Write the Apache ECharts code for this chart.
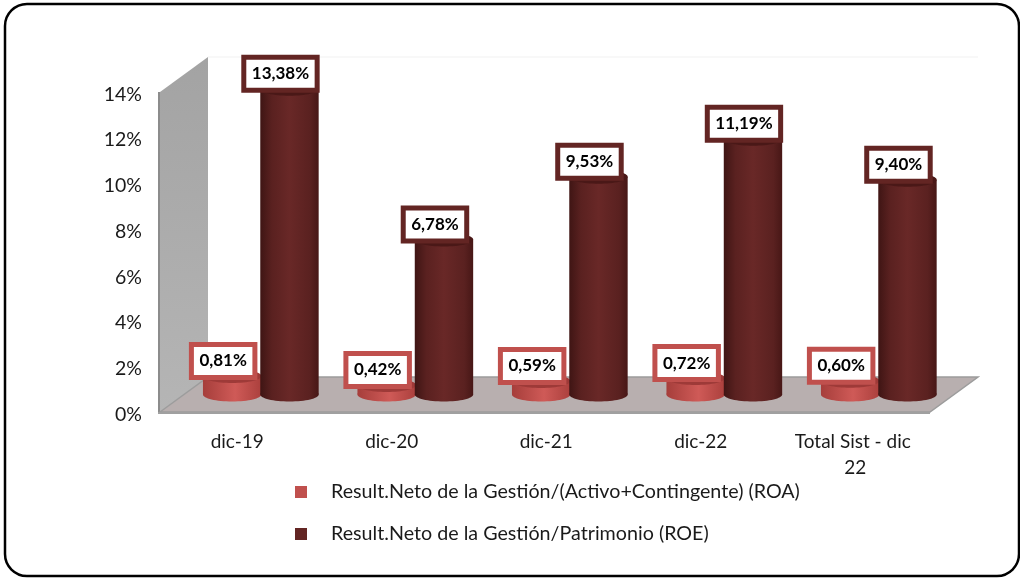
<!DOCTYPE html>
<html><head><meta charset="utf-8">
<style>html,body{margin:0;padding:0;background:#fff}#c{width:1020px;height:579px}</style>
<script src="https://cdn.jsdelivr.net/npm/echarts@6/dist/echarts.min.js"></script>
</head><body><div id="c"></div>
<script>
var categories = ['dic-19','dic-20','dic-21','dic-22','Total Sist - dic 22'];
var roa = [0.81,0.42,0.59,0.72,0.60];
var roe = [13.38,6.78,9.53,11.19,9.40];
var seriesNames = ['Result.Neto de la Gestión/(Activo+Contingente) (ROA)','Result.Neto de la Gestión/Patrimonio (ROE)'];
var yTicks = {min:0,max:14,interval:2};

var FONT = 'Lato, Carlito, "Open Sans", sans-serif';
var G = {l:160,t:92,w:770,h:320,dx:48,dy:35};

function cylinder(dxFrac, grad, topColor, borderColor){
  return function(params, api){
    var v = api.value(1), p = api.coord([api.value(0), v]), p0 = api.coord([api.value(0), 0]);
    var band = api.size([1,0])[0];
    var w = band*0.378, rx = w/2, ry = 7;
    var cx = p[0] + band*dxFrac, yTop = p[1]-17.5, yBase = p0[1]-17.5;
    var fill = {type:'linear',x:0,y:0,x2:1,y2:0,colorStops:grad};
    return {type:'group',children:[
      {type:'ellipse',shape:{cx:cx,cy:yBase,rx:rx,ry:ry},style:{fill:fill}},
      {type:'rect',shape:{x:cx-rx,y:yTop,width:w,height:yBase-yTop},style:{fill:fill}},
      {type:'ellipse',shape:{cx:cx,cy:yTop,rx:rx,ry:ry},style:{fill:topColor}},
      {type:'text',z2:100,x:cx-9,y:yTop-15,style:{
        text:v.toFixed(2).replace('.',',')+'%',font:'bold 17px '+FONT,fill:'#000',
        align:'center',verticalAlign:'middle',backgroundColor:'#fff',
        borderColor:borderColor,borderWidth:5,borderRadius:0,padding:[6,5.5,5,5.5]}}
    ]};
  };
}
function pairs(a){return a.map(function(v,i){return [i,v];});}

var chart = echarts.init(document.getElementById('c'),null,{renderer:'canvas'});
chart.setOption({
  animation:false,
  backgroundColor:'#fff',
  textStyle:{fontFamily:FONT},
  grid:{left:G.l,top:G.t,width:G.w+2.5,height:G.h,containLabel:false},
  xAxis:{type:'category',data:categories,
    axisLine:{show:false},axisTick:{show:false},
    axisLabel:{color:'#1a1a1a',fontFamily:FONT,fontSize:19,margin:17,lineHeight:26,width:132,overflow:'break',interval:0}},
  yAxis:{type:'value',min:yTicks.min,max:yTicks.max,interval:yTicks.interval,
    axisLine:{show:false},axisTick:{show:false},splitLine:{show:false},
    axisLabel:{color:'#1a1a1a',fontFamily:FONT,fontSize:19.5,margin:18,verticalAlign:'top',lineHeight:5,formatter:'{value}%'}},
  legend:{show:true,orient:'vertical',left:290,top:477,itemGap:22,itemWidth:12,itemHeight:12,
    icon:'rect',data:seriesNames,selectedMode:false,
    textStyle:{color:'#1a1a1a',fontFamily:FONT,fontSize:19.7,padding:[0,0,0,19],lineHeight:20}},
  graphic:{elements:[
    {type:'polygon',silent:true,z:0,shape:{points:[[G.l,G.t],[G.l+G.dx,G.t-G.dy],[G.l+G.dx,G.t+G.h-G.dy],[G.l,G.t+G.h]]},
      style:{fill:{type:'linear',x:0,y:0,x2:0,y2:1,colorStops:[{offset:0,color:'#a3a3a3'},{offset:1,color:'#b5b5b5'}]}}},
    {type:'rect',silent:true,z:0,shape:{x:G.l-2,y:G.t,width:2,height:G.h},style:{fill:'#8c8c8c'}},
    {type:'polyline',silent:true,z:0,shape:{points:[[G.l+G.dx,G.t-G.dy],[G.l+G.w+G.dx,G.t-G.dy]]},style:{stroke:'#f1f1f1',lineWidth:1,fill:null}},
    {type:'polygon',silent:true,z:0,shape:{points:[[G.l,G.t+G.h],[G.l+G.dx,G.t+G.h-G.dy],[G.l+G.w+G.dx,G.t+G.h-G.dy],[G.l+G.w,G.t+G.h]]},
      style:{fill:'#b8afaf',stroke:'#9c9c9c',lineWidth:1.5}},
    {type:'rect',silent:true,z:0,shape:{x:G.l-2,y:G.t+G.h,width:G.w+2,height:2},style:{fill:'#a0a0a0'}},
    {type:'rect',silent:true,z:50,shape:{x:5,y:4,width:1014,height:572,r:22},style:{fill:null,stroke:'#000',lineWidth:2.5}}
  ]},
  series:[
    {name:seriesNames[0],type:'custom',z:3,data:pairs(roa),encode:{x:0,y:1},itemStyle:{color:'#c0504d'},
     renderItem:cylinder(-0.033,[{offset:0,color:'#a63e3b'},{offset:0.55,color:'#cf5a57'},{offset:1,color:'#ab403d'}],'#9e3a38','#c0504d')},
    {name:seriesNames[1],type:'custom',z:3,data:pairs(roe),encode:{x:0,y:1},itemStyle:{color:'#632523'},
     renderItem:cylinder(0.338,[{offset:0,color:'#3f1514'},{offset:0.2,color:'#5a2120'},{offset:0.5,color:'#692827'},{offset:0.85,color:'#5a2120'},{offset:1,color:'#471716'}],'#4a1817','#632523')}
  ]
});
</script></body></html>
